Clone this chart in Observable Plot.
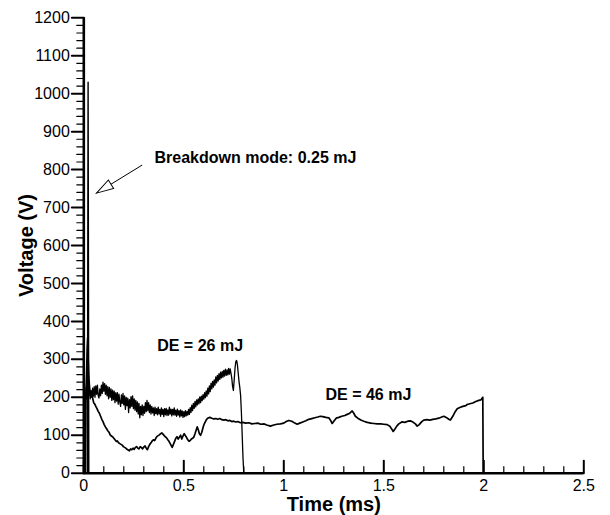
<!DOCTYPE html>
<html>
<head>
<meta charset="utf-8">
<script src="https://cdn.jsdelivr.net/npm/d3@7"></script>
<script src="https://cdn.jsdelivr.net/npm/@observablehq/plot@0.6"></script>
<style>
  body { margin: 0; background: #fff; }
  svg { display: block; }
</style>
</head>
<body>
<div id="chart"></div>
<script>
// Breakdown-mode discharge: a single narrow voltage spike
const breakdownTime = [0.018, 0.0215, 0.025];
const breakdownVolt = [0, 1030, 0];

// Glow discharge, DE = 26 mJ (ms, V)
const de26Time = [
  0.004,0.008,0.012,0.016,0.020,0.024,0.028,0.032,0.036,0.040,0.044,0.048,0.052,0.056,0.060,0.064,0.068,0.072,0.076,0.080,
  0.084,0.088,0.092,0.096,0.100,0.104,0.108,0.112,0.116,0.120,0.124,0.128,0.132,0.136,0.140,0.144,0.148,0.152,0.156,0.160,
  0.164,0.168,0.172,0.176,0.180,0.184,0.188,0.192,0.196,0.200,0.204,0.208,0.212,0.216,0.220,0.224,0.228,0.232,0.236,0.240,
  0.244,0.248,0.252,0.256,0.260,0.264,0.268,0.272,0.276,0.280,0.284,0.288,0.292,0.296,0.300,0.304,0.308,0.312,0.316,0.320,
  0.324,0.328,0.332,0.336,0.340,0.344,0.348,0.352,0.356,0.360,0.364,0.368,0.372,0.376,0.380,0.384,0.388,0.392,0.396,0.400,
  0.404,0.408,0.412,0.416,0.420,0.424,0.428,0.432,0.436,0.440,0.444,0.448,0.452,0.456,0.460,0.464,0.468,0.472,0.476,0.480,
  0.484,0.488,0.492,0.496,0.500,0.504,0.508,0.512,0.516,0.520,0.524,0.528,0.532,0.536,0.540,0.544,0.548,0.552,0.556,0.560,
  0.564,0.568,0.572,0.576,0.580,0.584,0.588,0.592,0.596,0.600,0.604,0.608,0.612,0.616,0.620,0.624,0.628,0.632,0.636,0.640,
  0.644,0.648,0.652,0.656,0.660,0.664,0.668,0.672,0.676,0.680,0.684,0.688,0.692,0.696,0.700,0.704,0.708,0.712,0.716,0.720,
  0.724,0.728,0.732,0.736,0.740,0.744,0.748,0.752,0.756,0.760,0.764,0.768,0.772,0.776,0.780,0.784,0.788,0.792,0.796,0.800
];
const de26Volt = [
  0,190,228,196,238,204,222,196,218,200,224,203,228,200,230,208,232,204,198,222,
  204,232,210,240,216,236,208,232,204,228,196,226,200,222,192,219,194,216,186,212,
  190,212,182,208,188,176,206,184,210,180,204,168,200,178,198,160,194,172,202,176,
  204,170,196,166,192,162,188,156,184,146,176,154,180,152,176,158,186,162,192,165,
  186,160,180,156,176,159,172,152,174,157,170,154,174,156,168,150,172,155,168,149,
  170,154,171,152,167,153,174,156,169,151,168,154,172,153,166,150,169,153,165,148,
  167,151,164,147,162,149,165,151,163,153,168,155,173,160,179,165,184,171,189,175,
  193,180,196,183,201,186,203,191,207,195,212,199,217,203,224,209,230,215,237,222,
  242,227,246,232,254,238,258,243,262,247,266,251,268,253,271,256,274,258,272,259,
  276,261,275,263,250,228,218,246,276,294,297,286,264,242,226,205,160,100,40,0
];

// Glow discharge, DE = 46 mJ (ms, V)
const de46Time = [
  0.008,0.011,0.014,0.017,0.0195,0.022,0.025,0.028,0.031,0.035,0.040,0.045,0.050,0.055,0.060,0.066,0.072,0.078,0.084,0.090,
  0.096,0.102,0.108,0.114,0.120,0.126,0.132,0.138,0.144,0.150,0.156,0.162,0.168,0.174,0.180,0.186,0.192,0.198,0.204,0.210,
  0.216,0.222,0.228,0.234,0.240,0.246,0.252,0.258,0.264,0.270,0.276,0.282,0.288,0.294,0.300,0.306,0.312,0.318,0.324,0.330,
  0.336,0.342,0.348,0.354,0.360,0.366,0.372,0.378,0.384,0.390,0.396,0.402,0.408,0.414,0.420,0.426,0.432,0.438,0.442,0.448,
  0.454,0.460,0.466,0.472,0.478,0.484,0.490,0.496,0.502,0.508,0.514,0.520,0.526,0.532,0.538,0.544,0.550,0.556,0.562,0.567,
  0.572,0.578,0.584,0.590,0.596,0.600,0.606,0.612,0.618,0.624,0.630,0.640,0.650,0.660,0.670,0.680,0.690,0.700,0.710,0.720,
  0.730,0.740,0.750,0.760,0.770,0.783,0.795,0.810,0.825,0.840,0.855,0.870,0.885,0.900,0.915,0.933,0.950,0.965,0.983,1.000,
  1.012,1.025,1.040,1.055,1.067,1.080,1.095,1.110,1.125,1.140,1.155,1.170,1.183,1.195,1.210,1.225,1.235,1.242,1.252,1.262,
  1.275,1.290,1.305,1.317,1.330,1.342,1.350,1.358,1.370,1.385,1.400,1.417,1.435,1.450,1.467,1.485,1.500,1.517,1.530,1.540,
  1.547,1.555,1.565,1.575,1.590,1.605,1.620,1.633,1.645,1.658,1.667,1.677,1.690,1.700,1.715,1.730,1.745,1.760,1.775,1.790,
  1.800,1.812,1.825,1.833,1.845,1.857,1.867,1.880,1.895,1.910,1.917,1.930,1.945,1.960,1.975,1.985,1.995,1.997
];
const de46Volt = [
  0,215,260,330,357,300,255,232,214,204,208,196,185,182,176,170,163,158,150,142,
  136,128,122,117,112,108,101,98,96,92,88,84,85,80,78,76,74,70,68,66,
  63,61,59,64,62,66,63,68,70,66,64,70,68,64,69,72,66,62,70,76,
  80,85,88,86,92,97,99,101,104,106,103,99,96,93,88,84,78,72,68,76,
  84,92,96,90,95,100,90,98,104,99,94,88,84,86,90,92,95,104,114,122,
  115,104,100,108,120,127,134,140,144,146,147,145,143,144,142,144,141,140,141,138,
  139,136,137,135,136,133,134,132,133,130,131,132,129,130,127,124,127,129,130,132,
  136,139,137,132,129,132,135,138,142,144,146,148,150,149,147,146,138,131,138,145,
  147,150,152,155,158,164,158,150,145,140,137,134,132,131,130,130,129,128,124,116,
  110,116,124,130,135,134,137,138,135,130,124,128,136,140,141,140,142,143,145,148,
  150,147,142,140,150,162,170,173,176,178,181,183,185,189,192,193,200,0
];

// Axis ticks and their labels
const xMajorTicks = [0, 0.5, 1, 1.5, 2, 2.5];
const xTickLabels = ["0", "0.5", "1", "1.5", "2", "2.5"];
const yMajorTicks = [0, 100, 200, 300, 400, 500, 600, 700, 800, 900, 1000, 1100, 1200];
const xMinorTicks = d3.range(0, 25).map(i => i / 10).filter(v => !xMajorTicks.includes(v));
const yMinorTicks = d3.range(0, 1201, 20).filter(v => v % 100 !== 0);

// Text annotations (data coordinates)
const notes = [
  {t: 0.3535, v: 831, text: "Breakdown mode: 0.25 mJ"},
  {t: 0.367, v: 335, text: "DE = 26 mJ"},
  {t: 1.2085, v: 207, text: "DE = 46 mJ"}
];
// Arrow pointing at the breakdown spike: tail -> tip
const arrowTail = {t: 0.292, v: 812};
const arrowTip = {t: 0.0635, v: 738};

const toRows = (ts, vs) => ts.map((t, i) => ({t, v: vs[i]}));
const breakdown = toRows(breakdownTime, breakdownVolt);
const de26 = toRows(de26Time, de26Volt);
const de46 = toRows(de46Time, de46Volt);

const font = "'Liberation Sans', Arial, Helvetica, sans-serif";
const W = 610, H = 515;
const margin = {top: 17.3, right: 26.7, bottom: 42.3, left: 83.3};
const frameW = W - margin.left - margin.right;
const frameH = H - margin.top - margin.bottom;
const pxPerMs = frameW / 2.5, pxPerV = frameH / 1200;

// Tick marks as two-point segments, one group per tick
// (x ticks rise up from the time axis, y ticks reach left of the voltage axis)
const xTickSegs = (ticks, lenPx, tag) => ticks.flatMap(v => [
  {t: v, v: 0, id: tag + v}, {t: v, v: lenPx / pxPerV, id: tag + v}
]);
const yTickSegs = (ticks, lenPx, tag) => ticks.flatMap(v => [
  {t: -lenPx / pxPerMs, v, id: tag + v}, {t: 0, v, id: tag + v}
]);
const majorTickSegs = [...xTickSegs(xMajorTicks, 12.5, "xM"), ...yTickSegs(yMajorTicks, 12, "yM")];
const minorTickSegs = [...xTickSegs(xMinorTicks, 6.5, "xm"), ...yTickSegs(yMinorTicks, 7, "ym")];

// Hollow triangular arrowhead: tip at the anchor, base 17px behind it
const arrowHead = {draw(ctx) { ctx.moveTo(0, 0); ctx.lineTo(-5, 17); ctx.lineTo(5, 17); ctx.closePath(); }};
// Screen angle of the arrow shaft (tip -> tail), for rotating the head
const headAngle = Math.atan2(
  -(arrowTail.t - arrowTip.t) * pxPerMs,
  -(arrowTail.v - arrowTip.v) * pxPerV
) * 180 / Math.PI;

const chart = Plot.plot({
  width: W,
  height: H,
  marginLeft: margin.left,
  marginRight: margin.right,
  marginTop: margin.top,
  marginBottom: margin.bottom,
  style: {fontFamily: font, fontSize: "16px", color: "#000", background: "#fff"},
  x: {domain: [0, 2.5], label: null},
  y: {domain: [0, 1200], label: null},
  marks: [
    // traces
    Plot.line(de46, {x: "t", y: "v", stroke: "#000", strokeWidth: 1.7}),
    Plot.line(de26, {x: "t", y: "v", stroke: "#000", strokeWidth: 1.3}),
    Plot.line(breakdown, {x: "t", y: "v", stroke: "#000", strokeWidth: 1.4}),

    // tick marks
    Plot.line(majorTickSegs, {x: "t", y: "v", z: "id", stroke: "#000", strokeWidth: 2}),
    Plot.line(minorTickSegs, {x: "t", y: "v", z: "id", stroke: "#000", strokeWidth: 1.2}),

    // tick labels
    Plot.axisY(yMajorTicks, {tickSize: 0, tickPadding: 14, tickFormat: d => String(d), fontSize: 16}),
    Plot.axisX(xMajorTicks, {tickSize: 0, tickPadding: 6, tickFormat: (d, i) => xTickLabels[i], fontSize: 16}),

    // axis lines
    Plot.ruleX([0], {y1: 0, y2: 1200, stroke: "#000", strokeWidth: 2.6}),
    Plot.ruleY([0], {x1: 0, x2: 2.5, stroke: "#000", strokeWidth: 2.6}),

    // axis titles
    Plot.text(["Time (ms)"], {frameAnchor: "bottom", text: d => d, dy: 38, lineAnchor: "bottom",
      fontSize: 20, fontWeight: "bold"}),
    Plot.text(["Voltage (V)"], {frameAnchor: "left", text: d => d, dx: -51, rotate: -90, lineAnchor: "bottom",
      textAnchor: "middle", fontSize: 20, fontWeight: "bold"}),

    // annotations
    Plot.text(notes, {x: "t", y: "v", text: "text", textAnchor: "start", lineAnchor: "middle",
      fontSize: 16, fontWeight: "bold", fill: "#000"}),
    Plot.link([arrowTail], {x1: "t", y1: "v", x2: () => arrowTip.t, y2: () => arrowTip.v, stroke: "#000", strokeWidth: 1}),
    Plot.dot([arrowTip], {x: "t", y: "v", symbol: arrowHead, rotate: headAngle, fill: "#fff", stroke: "#000", strokeWidth: 1})
  ]
});

document.getElementById("chart").appendChild(chart);
</script>
</body>
</html>
